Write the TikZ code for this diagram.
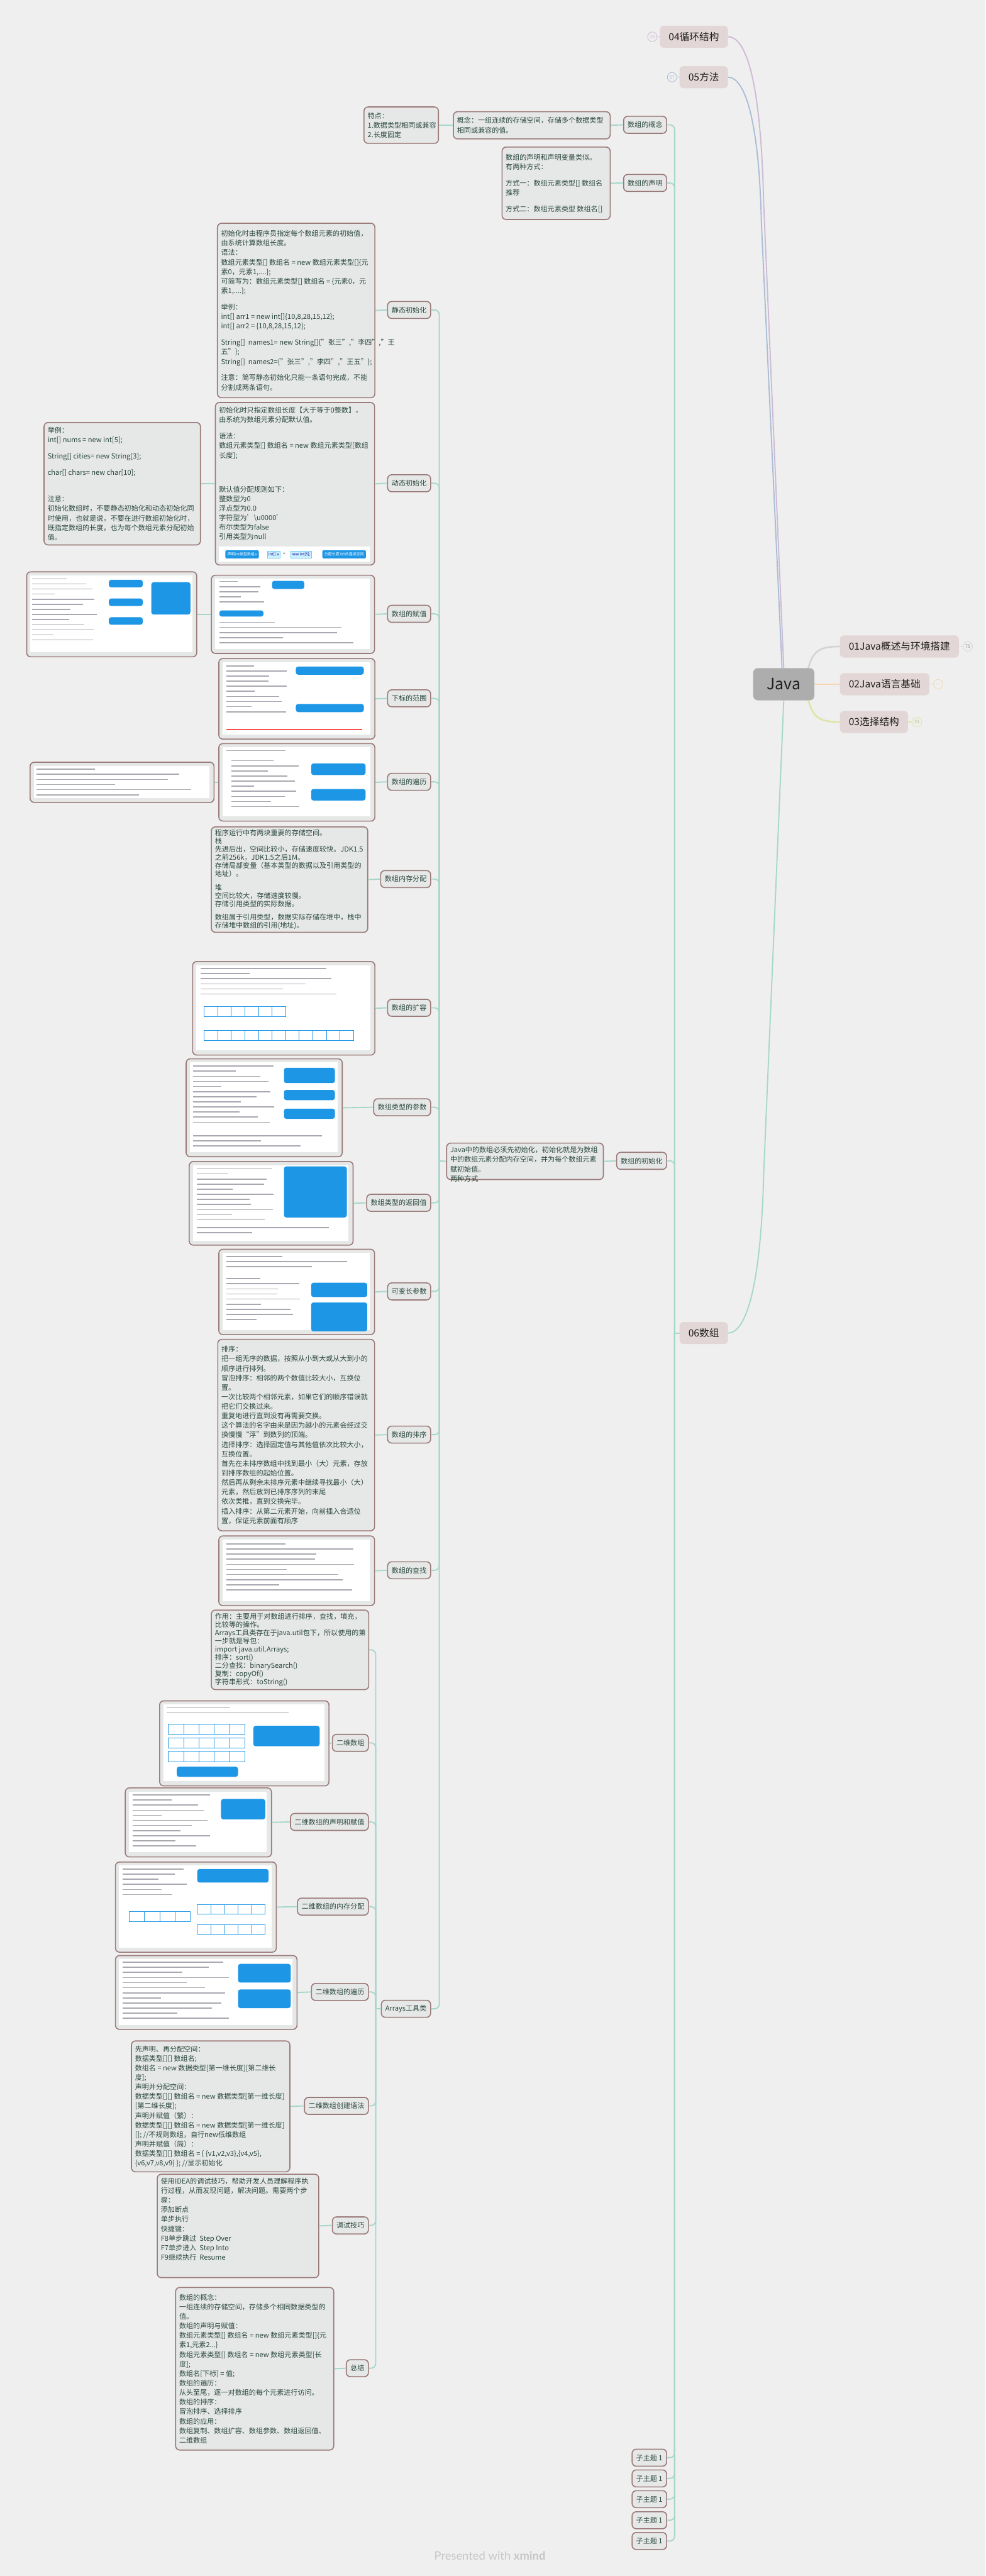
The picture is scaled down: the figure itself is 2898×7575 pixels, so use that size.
\documentclass[tikz,border=0pt]{standalone}
\usepackage{fontspec}
\setmainfont{Noto Sans CJK SC}
\newfontfamily\wmfont{Lato}
\usetikzlibrary{calc}
\definecolor{bg}{HTML}{EFEFEF}
\definecolor{topf}{HTML}{E3D6D6}
\definecolor{javaf}{HTML}{ADADAD}
\definecolor{subf}{HTML}{E6E8E8}
\definecolor{subd}{HTML}{9B7A7A}
\definecolor{txt}{HTML}{2A473D}
\definecolor{teal1}{HTML}{A6D7CB}
\definecolor{purp}{HTML}{CDBBD6}
\definecolor{blu}{HTML}{AABDD6}
\definecolor{gry}{HTML}{D4D4D4}
\definecolor{peach}{HTML}{F6D6B4}
\definecolor{ygrn}{HTML}{E0E4A9}
\definecolor{callb}{HTML}{1E96E6}
\definecolor{codeg}{HTML}{A8A8B0}
\definecolor{wm}{HTML}{C6C6C6}
\newcommand\fs{\fontsize{20.5}{28}\selectfont}
\newcommand\fsm{\fontsize{20.5}{24}\selectfont}
\newcommand\ftop{\fontsize{29}{35}\selectfont}
\newcommand\fjava{\fontsize{46}{54}\selectfont}
\newcommand\fbad{\fontsize{14}{16}\selectfont}
\newcommand\ftiny{\fontsize{11}{13}\selectfont}
\tikzset{
 sub/.style={draw=subd, fill=subf, line width=3pt, rounded corners=12pt, inner sep=0pt},
 lab/.style={sub, text=txt, font=\fs, inner xsep=12pt, minimum height=50pt, align=center},
 topn/.style={fill=topf, rounded corners=12pt, text=black!88, font=\ftop, inner xsep=26pt, minimum height=65pt},
 con/.style={draw=teal1, line width=3.5pt, rounded corners=14pt},
 badge/.style={circle, draw, line width=1.5pt, fill=bg, font=\fbad, inner sep=0pt, minimum size=28pt},
 btxt/.style={anchor=west, align=left, font=\fs, text=txt, inner sep=0pt},
 tag/.style={fill=callb, text=white, font=\ftiny, rounded corners=3pt, minimum height=24pt, inner xsep=6pt},
 cell/.style={fill=cyan!20, draw=cyan!60, text=blue!60!black, font=\ftiny, minimum height=20pt, inner xsep=4pt},
}
\newcommand\tb[7][\fs]{\node[sub, anchor=north west, minimum width=#5pt, minimum height=#6pt] (#2) at (#3,#4) {};\node[btxt, font=#1] (#2x) at ([xshift=12pt]#2.west) {#7};}
\newcommand\shot[5]{\node[sub, anchor=north west, minimum width=#4pt, minimum height=#5pt] (#1) at (#2,#3) {};\fill[white] (#2+12,#3+12) rectangle (#2+#4-12,#3+#5-12);}
\newcommand\code[4]{\foreach \k in {1,...,#4}{\pgfmathsetmacro\linelen{#3*(0.3+0.65*abs(sin(\k*67+#1)))}\draw[codeg, line width=3pt] (#1,{#2+(\k-1)*15}) -- ++(\linelen,0);}}
\newcommand\callout[4]{\fill[callb, rounded corners=7pt] (#1,#2) rectangle ++(#3,#4);}
\begin{document}
\begin{tikzpicture}[x=1pt,y=-1pt]
\fill[bg] (0,0) rectangle (2898,7575);
\useasboundingbox (0,0) rectangle (2898,7575);

% ---------- top level ----------
\node[topn, anchor=east] (n04) at (2141,108) {04循环结构};
\node[topn, anchor=east] (n05) at (2141,227) {05方法};
\node[topn, anchor=east] (n06) at (2141,3920) {06数组};
\node[fill=javaf, rounded corners=14pt, font=\fjava, text=black!88, minimum width=180pt, minimum height=95pt] (java) at (2305,2012) {Java};
\node[topn, anchor=west] (n01) at (2470,1901) {01Java概述与环境搭建};
\node[topn, anchor=west] (n02) at (2470,2012) {02Java语言基础};
\node[topn, anchor=west] (n03) at (2470,2123) {03选择结构};
\node[badge, draw=purp, text=purp] (b04) at ([xshift=-22pt]n04.west) {38};
\node[badge, draw=blu, text=blu] (b05) at ([xshift=-22pt]n05.west) {57};
\node[badge, draw=gry, text=gry!70!black] (b01) at ([xshift=26pt]n01.east) {75};
\node[badge, draw=peach, text=peach!80!black] (b02) at ([xshift=26pt]n02.east) {...};
\node[badge, draw=ygrn, text=ygrn!80!black] (b03) at ([xshift=26pt]n03.east) {31};
\draw[purp, line width=2pt] (b04) -- (n04.west);
\draw[blu, line width=2pt] (b05) -- (n05.west);
\draw[gry, line width=2pt] (n01.east) -- (b01);
\draw[peach, line width=2pt] (n02.east) -- (b02);
\draw[ygrn, line width=2pt] (n03.east) -- (b03);

\draw[purp, line width=3.5pt] (n04.east) .. controls (2195,108) and (2238,240) .. (2246,600) -- (java.north);
\draw[blu, line width=3.5pt] (n05.east) .. controls (2190,227) and (2232,350) .. (2239,650) -- ([xshift=-5pt]java.north);
\draw[teal1, line width=3.5pt] (n06.east) .. controls (2195,3920) and (2238,3780) .. (2246,3450) -- (java.south);
\draw[gry, line width=5pt] ([xshift=-18pt]java.north east) .. controls +(14,-50) and +(-60,0) .. (n01.west);
\draw[peach, line width=5pt] (java.east) -- (n02.west);
\draw[ygrn, line width=5pt] ([xshift=-18pt]java.south east) .. controls +(14,50) and +(-60,0) .. (n03.west);

% ---------- 06 children ----------
\coordinate (sp06) at (1984,3920);
\node[lab, anchor=east] (gn) at (1962,367) {数组的概念};
\tb{gnT}{1332}{327}{461}{80}{概念：一组连续的存储空间，存储多个数据类型\\相同或兼容的值。}
\tb{tdT}{1069}{313}{219}{107}{特点：\\1.数据类型相同或兼容\\2.长度固定}
\node[lab, anchor=east] (sm) at (1962,538) {数组的声明};
\tb{smT}{1475}{431}{318}{213}{数组的声明和声明变量类似。\\有两种方式：\\[20pt]方式一：数组元素类型[] 数组名\\推荐\\[20pt]方式二：数组元素类型 数组名[]}
\node[lab, anchor=east] (csh) at (1962,3413.5) {数组的初始化};
\node[sub, anchor=north west, minimum width=461pt, minimum height=107pt] (cshT) at (1312,3360) {};
\node[btxt, anchor=north west] (cshTx) at (1324,3372) {Java中的数组必须先初始化，初始化就是为数组\\中的数组元素分配内存空间，并为每个数组元素\\赋初始值。\\两种方式};
\foreach \i/\yy in {1/7227,2/7288,3/7349,4/7411,5/7472}{\node[lab, anchor=east] (zt\i) at (1962,\yy) {子主题 1};}

\draw[con] (n06.west) -- (sp06);
\foreach \c in {gn,sm,csh,zt1,zt2,zt3,zt4,zt5}{\draw[con] (\c.east) -- (\c.east -| sp06) -- (sp06);}
\draw[con] (gn.west) -- (gnT.east);
\draw[con] (gnT.west) -- (tdT.east);
\draw[con] (sm.west) -- (smT.east);
\draw[con] (csh.west) -- (cshT.east);

% ---------- initialisation children ----------
\coordinate (spI) at (1292,3413.5);
\node[lab, anchor=east] (jt) at (1268,911.5) {静态初始化};
\tb{jtT}{638}{655}{463}{513}{初始化时由程序员指定每个数组元素的初始值，\\由系统计算数组长度。\\语法：\\数组元素类型[] 数组名 = new 数组元素类型[]\{元\\素0，元素1,....\};\\可简写为：数组元素类型[] 数组名 = \{元素0，元\\素1,....\};\\[20pt]举例：\\int[] arr1 = new int[]\{10,8,28,15,12\};\\int[] arr2 = \{10,8,28,15,12\};\\[20pt]String[]\ \ names1= new String[]\{"张三","李四","王\\五"\};\\String[]\ \ names2=\{"张三","李四","王五"\};\\[20pt]注意：简写静态初始化只能一条语句完成，不能\\分割成两条语句。}

\node[lab, anchor=east] (dt) at (1268,1421) {动态初始化};
\node[sub, anchor=north west, minimum width=468pt, minimum height=478pt] (dtT) at (632,1182) {};
\node[btxt, anchor=north west] (dtTx) at (644,1197) {初始化时只指定数组长度【大于等于0整数】，\\由系统为数组元素分配默认值。\\[20pt]语法：\\数组元素类型[] 数组名 = new 数组元素类型[数组\\长度];\\[72pt]默认值分配规则如下：\\整数型为0\\浮点型为0.0\\字符型为'\textbackslash u0000'\\布尔类型为false\\引用类型为null};
\fill[white] (644,1608) rectangle (1088,1652);
\node[tag] (s1) at (712,1630) {声明int类型数组a};
\node[cell] (s2) at (805,1630) {int[] a};
\node[font=\ftiny] (s3) at (836,1630) {=};
\node[cell] (s4) at (885,1630) {new int[5];};
\node[tag] (s5) at (1012,1630) {分配长度为5的连续空间};
\tb{dtL}{128}{1241}{460}{360}{举例：\\int[] nums = new int[5];\\[20pt]String[] cities= new String[3];\\[20pt]char[] chars= new char[10];\\[50pt]注意：\\初始化数组时，不要静态初始化和动态初始化同\\时使用，也就是说，不要在进行数组初始化时，\\既指定数组的长度，也为每个数组元素分配初始\\值。}

\node[lab, anchor=east] (fz) at (1268,1805) {数组的赋值};
\shot{fzR}{620}{1690}{480}{230}
\code{645}{1710}{140}{5}
\callout{800}{1708}{95}{24}
\callout{645}{1795}{130}{18}
\code{645}{1830}{420}{5}
\shot{fzL}{77}{1680}{500}{250}
\code{95}{1702}{200}{13}
\callout{320}{1705}{100}{22}
\callout{320}{1760}{100}{22}
\callout{320}{1815}{100}{22}
\callout{445}{1712}{115}{95}

\node[lab, anchor=east] (xb) at (1268,2053.5) {下标的范围};
\shot{xb2}{642}{1935}{459}{237}
\code{665}{1958}{190}{10}
\callout{870}{1960}{200}{24}
\callout{870}{2070}{200}{24}
\draw[red!70, line width=3pt] (665,2145) -- (1065,2145);

\node[lab, anchor=east] (bl) at (1268,2299) {数组的遍历};
\shot{blI}{642}{2185}{459}{228}
\code{665}{2207}{400}{1}
\code{680}{2237}{210}{10}
\callout{915}{2245}{160}{34}
\callout{915}{2320}{160}{34}
\shot{blL}{87}{2240}{541}{118}
\code{108}{2262}{480}{6}

\node[lab, anchor=east] (nc) at (1268,2585) {数组内存分配};
\tb[\fsm]{ncT}{620}{2430}{460}{310}{程序运行中有两块重要的存储空间。\\栈\\先进后出，空间比较小，存储速度较快。JDK1.5\\之前256k，JDK1.5之后1M。\\存储局部变量（基本类型的数据以及引用类型的\\地址）。\\[16pt]堆\\空间比较大，存储速度较慢。\\存储引用类型的实际数据。\\[16pt]数组属于引用类型，数据实际存储在堆中，栈中\\存储堆中数组的引用(地址)。}

\node[lab, anchor=east] (kr) at (1268,2963.5) {数组的扩容};
\shot{krI}{565}{2826}{536}{275}
\code{590}{2848}{420}{6}
\foreach \i in {0,...,5}{\draw[callb, line width=1.5pt] ({600+\i*40},2960) rectangle ++(40,30);}
\foreach \i in {0,...,10}{\draw[callb, line width=1.5pt] ({600+\i*40},3030) rectangle ++(40,30);}

\node[lab, anchor=east] (cs) at (1268,3256) {数组类型的参数};
\shot{csI}{546}{3112}{459}{288}
\code{568}{3135}{250}{12}
\callout{835}{3140}{150}{45}
\callout{835}{3205}{150}{30}
\callout{835}{3260}{150}{30}
\code{568}{3340}{400}{3}

\node[lab, anchor=east] (fh) at (1268,3537) {数组类型的返回值};
\shot{fhI}{555}{3414}{482}{246}
\code{578}{3437}{240}{11}
\callout{835}{3430}{185}{150}
\code{578}{3610}{420}{2}

\node[lab, anchor=east] (kb) at (1268,3797.5) {可变长参数};
\shot{kbI}{642}{3672}{458}{251}
\code{665}{3695}{380}{3}
\code{665}{3760}{230}{9}
\callout{915}{3772}{165}{42}
\callout{915}{3830}{165}{85}

\node[lab, anchor=east] (px) at (1268,4218.5) {数组的排序};
\tb{pxT}{639}{3937}{461}{563}{排序：\\把一组无序的数据，按照从小到大或从大到小的\\顺序进行排列。\\冒泡排序：相邻的两个数值比较大小，互换位\\置。\\一次比较两个相邻元素，如果它们的顺序错误就\\把它们交换过来。\\重复地进行直到没有再需要交换。\\这个算法的名字由来是因为越小的元素会经过交\\换慢慢“浮”到数列的顶端。\\选择排序：选择固定值与其他值依次比较大小，\\互换位置。\\首先在未排序数组中找到最小（大）元素，存放\\到排序数组的起始位置。\\然后再从剩余未排序元素中继续寻找最小（大）\\元素，然后放到已排序序列的末尾\\依次类推，直到交换完毕。\\插入排序：从第二元素开始，向前插入合适位\\置，保证元素前面有顺序}

\node[lab, anchor=east] (cz) at (1268,4617.5) {数组的查找};
\shot{czI}{642}{4515}{458}{205}
\code{665}{4540}{400}{10}

\node[lab, anchor=east] (ar) at (1268,5907) {Arrays工具类};

\draw[con] (cshT.west) -- (spI);
\foreach \c in {jt,dt,fz,xb,bl,nc,kr,cs,fh,kb,px,cz,ar}{\draw[con] (\c.east) -- (\c.east -| spI) -- (spI);}
\draw[con] (jt.west) -- (jtT.east);
\draw[con] (dt.west) -- (dtT.east);
\draw[con] (dtT.west) -- (dtL.east);
\draw[con] (fz.west) -- (fzR.east);
\draw[con] (fzR.west) -- (fzL.east);
\draw[con] (xb.west) -- (xb2.east);
\draw[con] (bl.west) -- (blI.east);
\draw[con] (blI.west) -- (blL.east);
\draw[con] (nc.west) -- (ncT.east);
\draw[con] (kr.west) -- (krI.east);
\draw[con] (cs.west) -- (csI.east);
\draw[con] (fh.west) -- (fhI.east);
\draw[con] (kb.west) -- (kbI.east);
\draw[con] (px.west) -- (pxT.east);
\draw[con] (cz.west) -- (czI.east);

% ---------- Arrays children ----------
\coordinate (spA) at (1105,5907);
\tb[\fsm]{zyT}{620}{4733}{463}{234}{作用：主要用于对数组进行排序，查找，填充，\\比较等的操作。\\Arrays工具类存在于java.util包下，所以使用的第\\一步就是导包：\\import java.util.Arrays;\\排序：sort()\\二分查找：binarySearch()\\复制：copyOf()\\字符串形式：toString()}

\node[lab, anchor=east] (ew) at (1085,5125) {二维数组};
\shot{ewI}{468}{5000}{498}{250}
\code{490}{5022}{380}{2}
\foreach \i in {0,...,4}{\draw[callb, line width=1.5pt] ({495+\i*45},5070) rectangle ++(45,30);}
\foreach \i in {0,...,4}{\draw[callb, line width=1.5pt] ({495+\i*45},5110) rectangle ++(45,30);}
\foreach \i in {0,...,4}{\draw[callb, line width=1.5pt] ({495+\i*45},5150) rectangle ++(45,30);}
\callout{745}{5075}{195}{60}
\callout{520}{5195}{180}{30}

\node[lab, anchor=east] (smw) at (1085,5357.5) {二维数组的声明和赋值};
\shot{smI}{367}{5256}{430}{203}
\code{390}{5278}{240}{11}
\callout{650}{5290}{130}{60}

\node[lab, anchor=east] (ncw) at (1085,5606.5) {二维数组的内存分配};
\shot{ncI}{338}{5474}{473}{265}
\code{360}{5496}{200}{6}
\callout{580}{5496}{210}{40}
\foreach \i in {0,...,3}{\draw[callb, line width=1.5pt] ({380+\i*45},5620) rectangle ++(45,30);}
\foreach \i in {0,...,4}{\draw[callb, line width=1.5pt] ({580+\i*40},5600) rectangle ++(40,28);}
\foreach \i in {0,...,4}{\draw[callb, line width=1.5pt] ({580+\i*40},5660) rectangle ++(40,28);}

\node[lab, anchor=east] (blw) at (1085,5857.5) {二维数组的遍历};
\shot{blwI}{338}{5749}{534}{217}
\code{360}{5770}{330}{12}
\callout{700}{5775}{155}{55}
\callout{700}{5850}{155}{55}

\node[lab, anchor=east] (cj) at (1085,6192.5) {二维数组创建语法};
\tb{cjT}{385}{6000}{466}{385}{先声明、再分配空间：\\数据类型[][] 数组名;\\数组名 = new 数据类型[第一维长度][第二维长\\度];\\声明并分配空间：\\数据类型[][] 数组名 = new 数据类型[第一维长度]\\{}[第二维长度];\\声明并赋值（繁）：\\数据类型[][] 数组名 = new 数据类型[第一维长度]\\{}[]; //不规则数组，自行new低维数组\\声明并赋值（简）：\\数据类型[][] 数组名 = \{ \{v1,v2,v3\},\{v4,v5\},\\\{v6,v7,v8,v9\} \}; //显示初始化}

\node[lab, anchor=east] (ts) at (1085,6544) {调试技巧};
\node[sub, anchor=north west, minimum width=475pt, minimum height=304pt] (tsT) at (461,6392) {};
\node[btxt, anchor=north west] (tsTx) at (473,6404) {使用IDEA的调试技巧，帮助开发人员理解程序执\\行过程，从而发现问题，解决问题。需要两个步\\骤：\\添加断点\\单步执行\\快捷键：\\F8单步跳过\ \ Step Over\\F7单步进入\ \ Step Into\\F9继续执行\ \ Resume};

\node[lab, anchor=east] (zj) at (1085,6964) {总结};
\tb{zjT}{515}{6725}{465}{478}{数组的概念：\\一组连续的存储空间，存储多个相同数据类型的\\值。\\数组的声明与赋值：\\数组元素类型[] 数组名 = new 数组元素类型[]\{元\\素1,元素2...\}\\数组元素类型[] 数组名 = new 数组元素类型[长\\度];\\数组名[下标] = 值;\\数组的遍历：\\从头至尾，逐一对数组的每个元素进行访问。\\数组的排序：\\冒泡排序、选择排序\\数组的应用：\\数组复制、数组扩容、数组参数、数组返回值、\\二维数组}

\draw[con] (ar.west) -- (spA);
\foreach \c in {zyT,ew,smw,ncw,blw,cj,ts,zj}{\draw[con] (\c.east) -- (\c.east -| spA) -- (spA);}
\draw[con] (ew.west) -- (ewI.east);
\draw[con] (smw.west) -- (smI.east);
\draw[con] (ncw.west) -- (ncI.east);
\draw[con] (blw.west) -- (blwI.east);
\draw[con] (cj.west) -- (cjT.east);
\draw[con] (ts.west) -- (tsT.east);
\draw[con] (zj.west) -- (zjT.east);

% ---------- watermark ----------
\node[anchor=west, font=\wmfont\fontsize{34}{40}\selectfont, text=wm, inner sep=0pt] (wmk) at (1277,7516) {Presented with \textbf{xmind}};
\end{tikzpicture}
\end{document}
